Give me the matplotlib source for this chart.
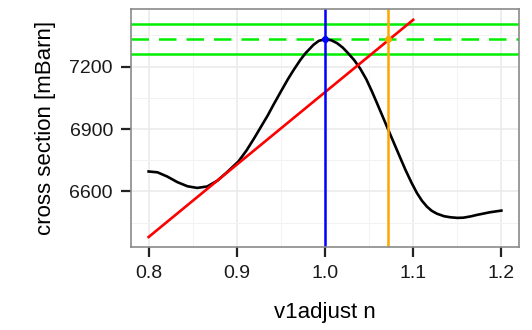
import matplotlib.pyplot as plt

plt.rcParams['font.family'] = ['Liberation Sans', 'DejaVu Sans']

# black curve
curve_x = [0.800, 0.810, 0.821, 0.8325, 0.844, 0.855, 0.8665, 0.878, 0.889, 0.902,
           0.911, 0.920, 0.927, 0.935, 0.942, 0.951, 0.958, 0.9646, 0.972, 0.978,
           0.987, 0.993, 1.000, 1.007, 1.0136, 1.020, 1.025, 1.033, 1.040, 1.047,
           1.0533, 1.059, 1.072, 1.085, 1.0911, 1.098, 1.1043, 1.110, 1.1156, 1.121,
           1.127, 1.135, 1.142, 1.150, 1.157, 1.165, 1.172, 1.187, 1.200]
curve_y = [6696, 6692, 6672, 6645, 6625, 6617, 6624, 6652, 6693, 6745,
           6797, 6858, 6908, 6965, 7020, 7088, 7140, 7185, 7232, 7265,
           7305, 7324, 7332, 7327, 7313, 7292, 7270, 7232, 7190, 7138,
           7080, 7024, 6894, 6765, 6705, 6643, 6592, 6555, 6527, 6507,
           6493, 6481, 6476, 6473, 6474, 6480, 6487, 6500, 6508]

# red linear fit
fit_x = [0.8, 1.1]
fit_y = [6381, 7425]

# green band: target and +/- error
target = 7332
band = [7259, 7406]

peak_x = 1.0
cross_x = 1.072

xticks = [0.8, 0.9, 1.0, 1.1, 1.2]
xticklabels = ['0.8', '0.9', '1.0', '1.1', '1.2']
yticks = [6600, 6900, 7200]

fig = plt.figure(figsize=(5.32, 3.30), dpi=100)
ax = fig.add_axes([0.2462, 0.2515, 0.7294, 0.7212])

ax.set_xlim(0.78, 1.22)
ax.set_ylim(6333, 7477)

# grid, ggplot theme_bw style
ax.set_xticks(xticks)
ax.set_xticklabels(xticklabels)
ax.set_yticks(yticks)
ax.set_xticks([0.85, 0.95, 1.05, 1.15], minor=True)
ax.set_yticks([6450, 6750, 7050, 7350], minor=True)
ax.grid(True, which='major', color='#EBEBEB', lw=1.2)
ax.grid(True, which='minor', color='#F2F2F2', lw=0.7)
ax.set_axisbelow(True)
ax.tick_params(which='minor', length=0)
ax.tick_params(which='major', length=7, width=1.6, color='#222222',
               labelsize=14, labelcolor='#1a1a1a', pad=6)
for s in ax.spines.values():
    s.set_color('#8a8a8a')
    s.set_linewidth(1.2)

for b in band:
    ax.axhline(b, color='#00ee00', lw=1.8)
ax.axhline(target, color='#00ee00', lw=1.8, dashes=(7, 4))

ax.plot(curve_x, curve_y, color='black', lw=1.9, solid_joinstyle='round')
ax.plot(fit_x, fit_y, color='red', lw=1.9)

ax.axvline(peak_x, color='blue', lw=1.8)
ax.axvline(cross_x, color='orange', lw=1.8)
ax.plot([peak_x], [target], 'o', color='blue', ms=4)
ax.plot([cross_x], [target], 'o', color='orange', ms=4)

ax.set_xlabel('v1adjust n', fontsize=16, labelpad=14)
ax.set_ylabel('cross section [mBarn]', fontsize=16, labelpad=10)

fig.savefig('out.png', dpi=100)
